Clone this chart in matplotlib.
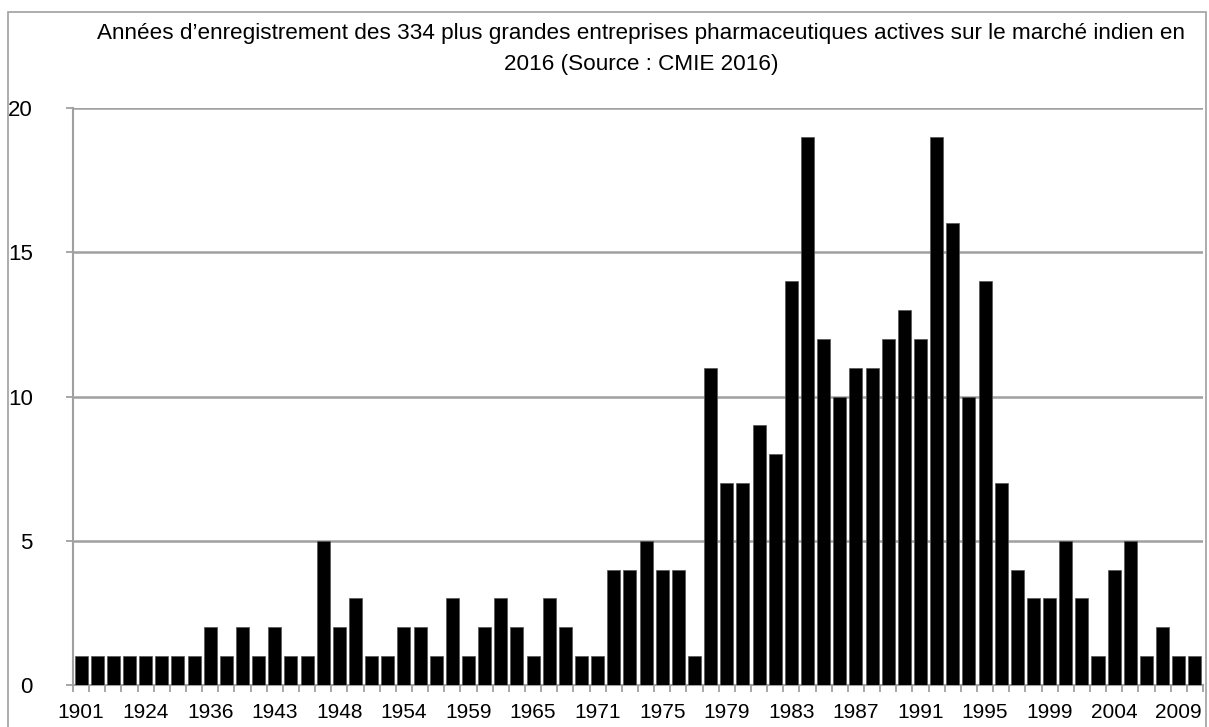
import matplotlib.pyplot as plt
from matplotlib.patches import Rectangle
import numpy as np

plt.rcParams['font.family'] = ['Liberation Sans', 'DejaVu Sans']

# Number of companies registered per year (one bar per year, 70 bars)
counts = [
    1, 1, 1, 1, 1, 1, 1, 1, 2, 1,
    2, 1, 2, 1, 1, 5, 2, 3, 1, 1,
    2, 2, 1, 3, 1, 2, 3, 2, 1, 3,
    2, 1, 1, 4, 4, 5, 4, 4, 1, 11,
    7, 7, 9, 8, 14, 19, 12, 10, 11, 11,
    12, 13, 12, 19, 16, 10, 14, 7, 4, 3,
    3, 5, 3, 1, 4, 5, 1, 2, 1, 1,
]
# only every 4th year is labelled on the axis
year_labels = ['1901', '1924', '1936', '1943', '1948', '1954', '1959', '1965',
               '1971', '1975', '1979', '1983', '1987', '1991', '1995', '1999',
               '2004', '2009']

title = ("Années d\u2019enregistrement des 334 plus grandes entreprises pharmaceutiques actives sur le marché indien en\n"
         "2016 (Source : CMIE 2016)")

fig = plt.figure(figsize=(12.09, 7.27), dpi=100)
ax = fig.add_axes([0.0604, 0.0578, 0.9346, 0.7936])

x = np.arange(len(counts))
ax.bar(x, counts, width=0.81, color='black', edgecolor='#555555', linewidth=0.5, zorder=3)

grey = '#a0a0a0'
ax.set_xlim(-0.5, len(counts) - 0.5)
ax.set_ylim(0, 20)
ax.set_yticks([0, 5, 10, 15, 20])
ax.yaxis.grid(True, color=grey, linewidth=1.8, zorder=0)

ax.set_xticks(x[::4])
ax.set_xticklabels(year_labels, fontsize=15)
ax.set_xticks(np.arange(len(counts) + 1) - 0.5, minor=True)
ax.tick_params(axis='x', which='major', length=0, pad=13)
ax.tick_params(axis='x', which='minor', length=5, width=1.3, color=grey)
ax.tick_params(axis='y', length=5, width=1.3, color=grey, labelsize=16, pad=24)

for side in ['top', 'right']:
    ax.spines[side].set_visible(False)
for side in ['left', 'bottom']:
    ax.spines[side].set_color(grey)
    ax.spines[side].set_linewidth(1.5)

fig.text(0.53, 0.968, title, ha='center', va='top', fontsize=16.2, linespacing=1.6)

# outer chart border
fig.patches.append(Rectangle((8 / 1209, -0.01), 1198 / 1209, 1 - 12 / 727 + 0.01,
                             transform=fig.transFigure, fill=False,
                             edgecolor=grey, linewidth=1.2))

fig.savefig('out.png', dpi=100)
